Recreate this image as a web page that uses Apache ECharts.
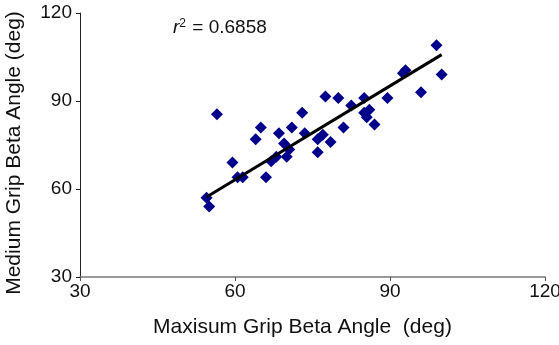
<!DOCTYPE html>
<html>
<head>
<meta charset="utf-8">
<script src="https://cdn.jsdelivr.net/npm/echarts@6/dist/echarts.min.js"></script>
<style>
  html, body { margin: 0; padding: 0; background: #fff; }
  #chart { width: 559px; height: 345px; }
</style>
</head>
<body>
<div id="chart"></div>
<script>
// maximum grip beta angle (x) vs medium grip beta angle (y), deg
const maxGrip = [54.5, 55, 56.5, 59.5, 60.5, 61.5, 64, 65, 66, 67, 68, 68.5, 69.5, 70, 70.5, 71, 73, 73.5,
  76, 76, 77, 77.5, 78.5, 80, 81, 82.5, 85, 85, 85.5, 86, 87, 89.5, 92.5, 93, 96, 99, 100];
const mediumGrip = [57, 54, 85.5, 69, 64, 64, 77, 81, 64, 69.5, 71, 79, 75.5, 71, 73.5, 81, 86, 79,
  72.5, 77, 78.5, 91.5, 76, 91, 81, 88.5, 91, 86, 84.5, 87, 82, 91, 99.5, 100.5, 93, 109, 99];
// fitted trend line ends
const fitX = [54.5, 100];
const fitY = [57.3, 105.8];
const axisTicks = [30, 60, 90, 120];

const points = maxGrip.map((x, i) => [x, mediumGrip[i]]);
const fitLine = fitX.map((x, i) => [x, fitY[i]]);

const chart = echarts.init(document.getElementById('chart'));
const font = 'Liberation Sans, Arial, sans-serif';

function axisCfg(name, extra) {
  return Object.assign({
    type: 'value',
    name: name,
    nameLocation: 'middle',
    min: axisTicks[0],
    max: axisTicks[axisTicks.length - 1],
    interval: axisTicks[1] - axisTicks[0],
    nameTextStyle: {color: '#111', fontSize: 21, fontFamily: font},
    axisLine: {show: true, lineStyle: {color: '#222', width: 1}},
    axisTick: {show: true, length: 4, lineStyle: {color: '#222'}},
    axisLabel: {color: '#111', fontSize: 19, fontFamily: font, margin: 8},
    splitLine: {show: false}
  }, extra);
}

chart.setOption({
  animation: false,
  grid: {left: 80, right: 14, top: 13, bottom: 68, containLabel: false, outerBoundsMode: 'none'},
  xAxis: axisCfg('Maxisum Grip Beta Angle  (deg)', {
    nameGap: 40,
    nameTextStyle: {color: '#111', fontSize: 21, fontFamily: font, padding: [0, 20, 0, 0]},
    axisLine: {show: true, lineStyle: {color: '#777', width: 1.5}},
    axisTick: {show: true, length: 4, lineStyle: {color: '#555'}},
    axisLabel: {color: '#111', fontSize: 19, fontFamily: font, margin: 5}
  }),
  yAxis: axisCfg('Medium Grip Beta Angle (deg)', {
    nameGap: 55,
    nameTextStyle: {color: '#111', fontSize: 21, fontFamily: font, padding: [0, 16, 0, 0]}
  }),
  graphic: [{
    type: 'text',
    left: 173,
    top: 18,
    style: {
      text: '{r|r}{s|2}{t| = 0.6858}',
      fill: '#111',
      rich: {
        r: {fontStyle: 'italic', fontSize: 19, fontFamily: font, fill: '#111'},
        s: {fontSize: 12, fontFamily: font, verticalAlign: 'top', padding: [0, 1, 8, 0], fill: '#111'},
        t: {fontSize: 19, fontFamily: font, fill: '#111'}
      }
    }
  }],
  series: [
    {
      type: 'scatter',
      data: points,
      symbol: 'diamond',
      symbolSize: 12,
      itemStyle: {color: '#00008b', opacity: 1}
    },
    {
      type: 'line',
      data: fitLine,
      symbol: 'none',
      lineStyle: {color: '#000', width: 3}
    }
  ]
});
</script>
</body>
</html>
